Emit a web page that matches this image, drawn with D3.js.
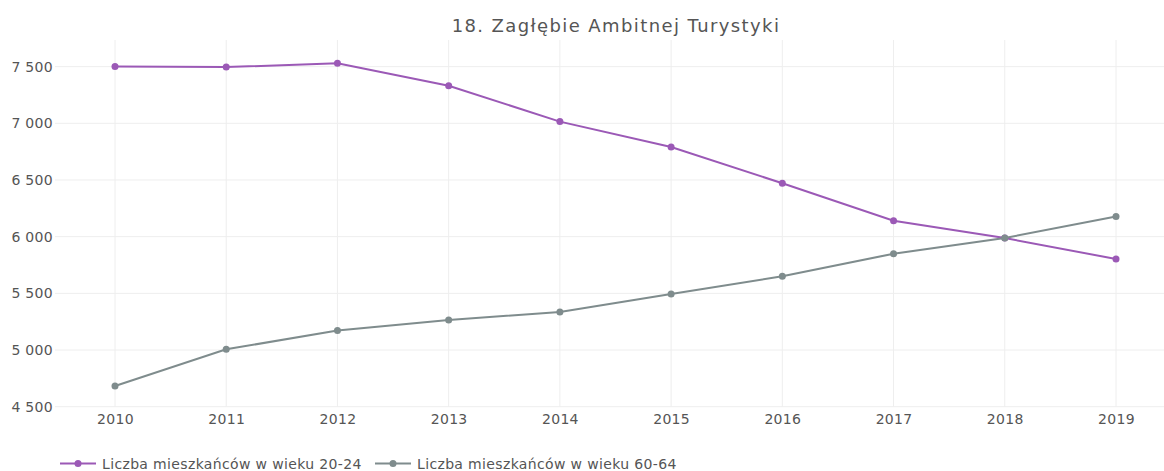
<!DOCTYPE html>
<html>
<head>
<meta charset="utf-8">
<script src="https://cdn.jsdelivr.net/npm/d3@7"></script>
<style>
  html, body { margin: 0; padding: 0; background: #fff; }
  svg { display: block; font-family: "DejaVu Sans", Verdana, sans-serif; }
</style>
</head>
<body>
<svg id="chart" width="1164" height="471"></svg>
<script>
const title = "18. Zagłębie Ambitnej Turystyki";
const years = [2010, 2011, 2012, 2013, 2014, 2015, 2016, 2017, 2018, 2019];
const series20_24 = [7502, 7496, 7530, 7332, 7015, 6791, 6471, 6141, 5988, 5803];
const series60_64 = [4683, 5006, 5173, 5265, 5335, 5494, 5650, 5850, 5988, 6178];
const seriesNames = ["Liczba mieszkańców w wieku 20-24", "Liczba mieszkańców w wieku 60-64"];
const seriesColors = ["#9b59b6", "#7f8c8d"];
const yTicks = [4500, 5000, 5500, 6000, 6500, 7000, 7500];

const svg = d3.select("#chart");
const plot = { left: 55, right: 1164, top: 40, bottom: 406.7 };

const x = d3.scaleLinear().domain([2010, 2019]).range([115, 1116]);
const y = d3.scaleLinear().domain([4500, 7735]).range([plot.bottom, plot.top]);

const fmt = v => d3.format(",")(v).replace(/,/g, " ");

// grid
const grid = svg.append("g");
grid.selectAll("line.h").data(yTicks).join("line")
  .attr("x1", plot.left).attr("x2", plot.right)
  .attr("y1", d => y(d)).attr("y2", d => y(d))
  .attr("stroke", "#eeeeee").attr("stroke-width", 1);
grid.selectAll("line.v").data(years).join("line")
  .attr("x1", d => x(d)).attr("x2", d => x(d))
  .attr("y1", plot.top).attr("y2", plot.bottom)
  .attr("stroke", "#eeeeee").attr("stroke-width", 1);

// y axis
const yAxis = d3.axisLeft(y).tickValues(yTicks).tickFormat(fmt).tickSize(0).tickPadding(2);
const gy = svg.append("g").attr("transform", `translate(${plot.left},0)`).call(yAxis);
gy.select(".domain").remove();
gy.selectAll("text").attr("font-size", 14).attr("fill", "#555").attr("font-family", "DejaVu Sans, Verdana, sans-serif")
  .attr("letter-spacing", 0.3);

// x axis
const xAxis = d3.axisBottom(x).tickValues(years).tickFormat(d3.format("d")).tickSize(0).tickPadding(7);
const gx = svg.append("g").attr("transform", `translate(0,${plot.bottom})`).call(xAxis);
gx.select(".domain").remove();
gx.selectAll("text").attr("font-size", 14).attr("fill", "#555").attr("font-family", "DejaVu Sans, Verdana, sans-serif")
  .attr("letter-spacing", 0.3);

// lines
const data = [series20_24, series60_64];
const line = d3.line().x((d, i) => x(years[i])).y(d => y(d));
data.forEach((s, k) => {
  svg.append("path").datum(s).attr("d", line)
    .attr("fill", "none").attr("stroke", seriesColors[k]).attr("stroke-width", 2);
  svg.append("g").selectAll("circle").data(s).join("circle")
    .attr("cx", (d, i) => x(years[i])).attr("cy", d => y(d)).attr("r", 3.5)
    .attr("fill", seriesColors[k]);
});

// title
svg.append("text").attr("x", 616).attr("y", 32).attr("text-anchor", "middle")
  .attr("font-size", 18).attr("letter-spacing", 1.4).attr("fill", "#555").text(title);

// legend
const legendX = [60, 375];
seriesNames.forEach((name, k) => {
  const g = svg.append("g").attr("transform", `translate(${legendX[k]},463.5)`);
  g.append("line").attr("x1", 0).attr("x2", 36).attr("y1", 0).attr("y2", 0)
    .attr("stroke", seriesColors[k]).attr("stroke-width", 2);
  g.append("circle").attr("cx", 18).attr("cy", 0).attr("r", 3.5).attr("fill", seriesColors[k]);
  g.append("text").attr("x", 42).attr("y", 5).attr("font-size", 14).attr("letter-spacing", 0.35)
    .attr("fill", "#555").text(name);
});
</script>
</body>
</html>
